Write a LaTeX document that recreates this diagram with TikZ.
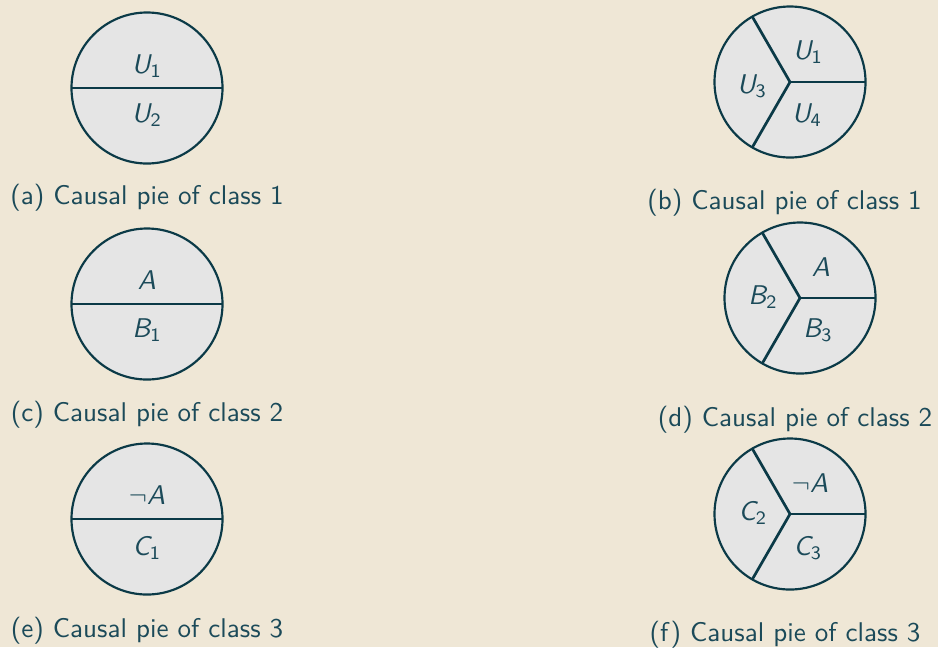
\documentclass[tikz,border=0pt]{standalone}
\DeclareMathAlphabet{\mathsfsl}{OT1}{cmss}{m}{sl}
\DeclareMathAlphabet{\mathsfup}{OT1}{cmss}{m}{n}
\newcommand\pl[2]{$\mathsfsl{#1}_{\mathsfup{#2}}$}
\definecolor{bgc}{HTML}{EFE7D6}
\definecolor{piefill}{HTML}{E5E5E5}
\definecolor{stroke}{HTML}{0B3A47}
\definecolor{txt}{HTML}{1B4A59}
\tikzset{
  pie/.style={circle,draw=stroke,fill=piefill,line width=0.8pt,inner sep=0pt,outer sep=0pt,minimum size=55.8pt},
  div/.style={draw=stroke,line width=1pt},
  lbl/.style={text=txt,inner sep=0pt},
  captext/.style={text=txt,anchor=base,inner sep=0pt,font=\sffamily},
}
\begin{document}
\begin{tikzpicture}[x=0.3695pt,y=-0.3695pt]
\fill[bgc] (0,0) rectangle (938,647);
\useasboundingbox (0,0) rectangle (938,647);
% (a)
\node[pie] (pa) at (147,88) {};
\draw[div] (pa.west) -- (pa.east);
\node[lbl] (la1) at (147,66) {\pl{U}{1}};
\node[lbl] (la2) at (147,115) {\pl{U}{2}};
\node[captext] (ca) at (147,204) {(a) Causal pie of class 1};
% (b)
\node[pie] (pb) at (790,82) {};
\draw[div] (pb.center) -- (pb.0);
\draw[div] (pb.center) -- (pb.120);
\draw[div] (pb.center) -- (pb.240);
\node[lbl] (lb1) at (808,52) {\pl{U}{1}};
\node[lbl] (lb3) at (752,86) {\pl{U}{3}};
\node[lbl] (lb4) at (807,115) {\pl{U}{4}};
\node[captext] (cb) at (784.5,209) {(b) Causal pie of class 1};
% (c)
\node[pie] (pc) at (147,304) {};
\draw[div] (pc.west) -- (pc.east);
\node[lbl] (lc1) at (147,280) {$\mathsfsl{A}$};
\node[lbl] (lc2) at (147,330) {\pl{B}{1}};
\node[captext] (cc) at (147,421) {(c) Causal pie of class 2};
% (d)
\node[pie] (pd) at (800,298) {};
\draw[div] (pd.center) -- (pd.0);
\draw[div] (pd.center) -- (pd.120);
\draw[div] (pd.center) -- (pd.240);
\node[lbl] (ld1) at (821,267) {$\mathsfsl{A}$};
\node[lbl] (ld2) at (763,297) {\pl{B}{2}};
\node[lbl] (ld3) at (818,330) {\pl{B}{3}};
\node[captext] (cd) at (795,426) {(d) Causal pie of class 2};
% (e)
\node[pie] (pe) at (147,519) {};
\draw[div] (pe.west) -- (pe.east);
\node[lbl] (le1) at (147,495) {$\neg\mathsfsl{A}$};
\node[lbl] (le2) at (147,548) {\pl{C}{1}};
\node[captext] (ce) at (147,637) {(e) Causal pie of class 3};
% (f)
\node[pie] (pf) at (790,514) {};
\draw[div] (pf.center) -- (pf.0);
\draw[div] (pf.center) -- (pf.120);
\draw[div] (pf.center) -- (pf.240);
\node[lbl] (lf1) at (810,483) {$\neg\mathsfsl{A}$};
\node[lbl] (lf2) at (753,513) {\pl{C}{2}};
\node[lbl] (lf3) at (808,548) {\pl{C}{3}};
\node[captext] (cf) at (785,641) {(f) Causal pie of class 3};
\end{tikzpicture}
\end{document}
